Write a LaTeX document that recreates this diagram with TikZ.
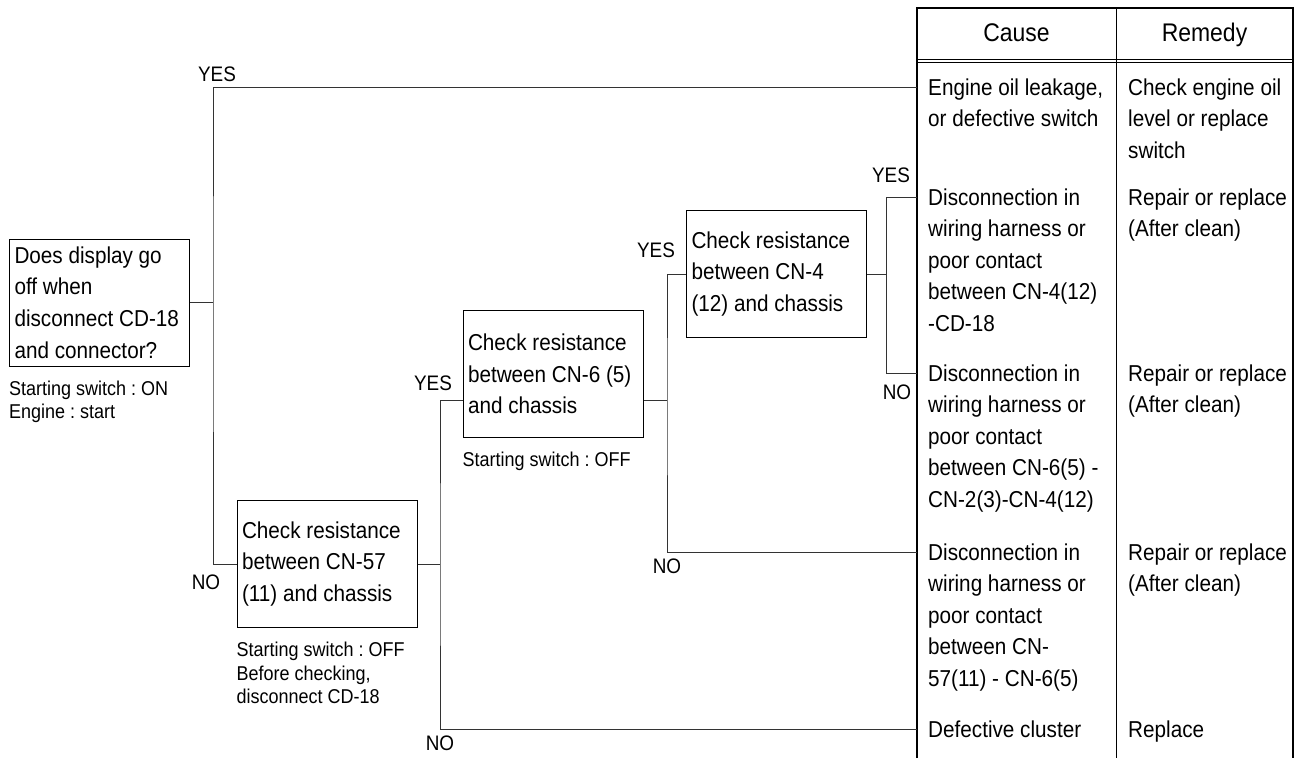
\documentclass[tikz,border=0pt]{standalone}
\usepackage{fontspec}
\setmainfont{Liberation Sans}[FakeStretch=0.9]
\usetikzlibrary{positioning}
\frenchspacing
\tikzset{chk/.style={rectangle, draw, line width=1pt,
   minimum width=180pt, minimum height=127pt,
   text width=170pt, inner xsep=5pt, inner ysep=0pt, align=flush left,
   font=\fontsize{23}{31.7}\selectfont}}
\tikzset{note/.style={inner sep=0pt, align=left, anchor=north west,
   font=\fontsize{20}{23.5}\selectfont}}
\tikzset{cell/.style={inner sep=0pt, align=left, anchor=north west,
   font=\fontsize{23}{31.5}\selectfont}}
\tikzset{head/.style={inner sep=0pt, anchor=base, font=\fontsize{25.5}{25.5}\selectfont}}
\tikzset{ans/.style={inner sep=0pt, font=\fontsize{21}{21}\selectfont}}
\tikzset{wire/.style={line width=1pt, black!80}}
\tikzset{tbl/.style={line width=1.4pt}}
\begin{document}
\begin{tikzpicture}[x=1pt, y=-1pt]

    \useasboundingbox (0,0) rectangle (1303,758);

    % check boxes
    \node[chk] (q1) at (99.5,302.5) {Does display go\\off when\\disconnect CD-18\\and connector?};
    \node[chk] (b2) at (327,564) {Check resistance\\between CN-57\\(11) and chassis};
    \node[chk] (b3) at (553,374) {Check resistance\\between CN-6 (5)\\and chassis};
    \node[chk] (b4) at (776.5,274) {Check resistance\\between CN-4\\(12) and chassis};

    \node[note, below=12pt of q1.south west, anchor=north west] (q1n)
        {\strut Starting switch : ON\\Engine : start};
    \node[note, below=12pt of b2.south west, anchor=north west] (b2n)
        {\strut Starting switch : OFF\\Before checking,\\disconnect CD-18};
    \node[note, below=12pt of b3.south west, anchor=north west] (b3n)
        {\strut Starting switch : OFF};

    % table
    \draw[tbl] (917,758) -- (917,8) -- (1293,8) -- (1293,758);
    \draw[line width=1pt] (1116,8) -- (1116,758);
    \draw[line width=1pt] (917,59) -- (1293,59);
    \draw[line width=1pt] (917,62.5) -- (1293,62.5);
    \node[head] (hc) at (1016.5,41) {Cause};
    \node[head] (hr) at (1204.5,41) {Remedy};

    \coordinate (r1) at (917,87);
    \coordinate (r2) at (917,197);
    \coordinate (r3) at (917,373);
    \coordinate (r4) at (917,552);
    \coordinate (r5) at (917,729);

    \node[cell] (c1) at (928,73.2) {\strut Engine oil leakage,\\or defective switch};
    \node[cell] (m1) at (1128,73.2) {\strut Check engine oil\\level or replace\\switch};
    \node[cell] (c2) at (928,183.2) {\strut Disconnection in\\wiring harness or\\poor contact\\between CN-4(12)\\-CD-18};
    \node[cell] (m2) at (1128,183.2) {\strut Repair or replace\\(After clean)};
    \node[cell] (c3) at (928,359.2) {\strut Disconnection in\\wiring harness or\\poor contact\\between CN-6(5) -\\CN-2(3)-CN-4(12)};
    \node[cell] (m3) at (1128,359.2) {\strut Repair or replace\\(After clean)};
    \node[cell] (c4) at (928,538.2) {\strut Disconnection in\\wiring harness or\\poor contact\\between CN-\\57(11) - CN-6(5)};
    \node[cell] (m4) at (1128,538.2) {\strut Repair or replace\\(After clean)};
    \node[cell] (c5) at (928,715.2) {\strut Defective cluster};
    \node[cell] (m5) at (1128,715.2) {\strut Replace};

    % branches
    \coordinate (j1) at (213,302.5);
    \coordinate (j2) at (440,564);
    \coordinate (j3) at (667,400);
    \coordinate (j4) at (886,274);

    \draw[wire] (q1.east) -- (j1);
    \draw[wire] (r1) -| (j1) |- (b2.west);
    \draw[wire] (b2.east) -- (j2);
    \draw[wire] ([yshift=-26pt]b3.west) -| (j2) |- (r5);
    \draw[wire] ([yshift=-26pt]b3.east) -- (j3);
    \draw[wire] (b4.west) -| (j3) |- (r4);
    \draw[wire] (b4.east) -- (j4);
    \draw[wire] (r2) -| (j4) |- (r3);

    \node[ans] (y1) at (217,74) {YES};
    \node[ans] (n1) at (206,582) {NO};
    \node[ans] (y2) at (433,383) {YES};
    \node[ans] (n2) at (440,743) {NO};
    \node[ans] (y3) at (656,250) {YES};
    \node[ans] (n3) at (667,566) {NO};
    \node[ans] (y4) at (891,175) {YES};
    \node[ans] (n4) at (897,392) {NO};

\end{tikzpicture}
\end{document}
